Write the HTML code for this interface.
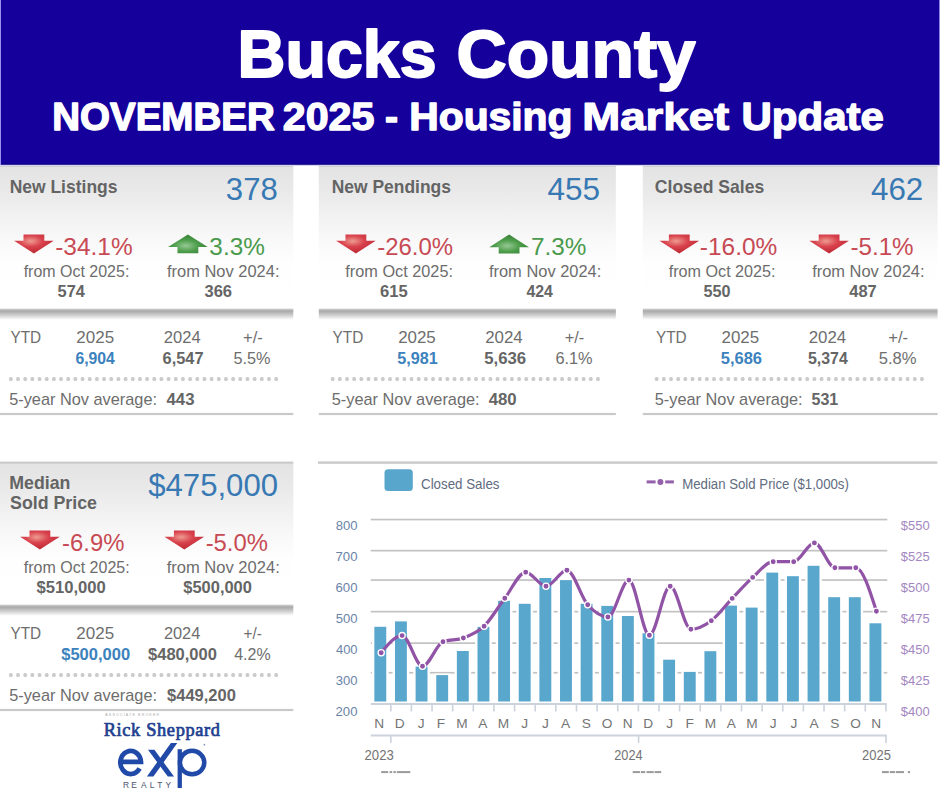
<!DOCTYPE html>
<html><head><meta charset="utf-8"><title>Bucks County - November 2025 Housing Market Update</title>
<style>html,body{margin:0;padding:0;background:#fff;} body{width:940px;height:788px;overflow:hidden;font-family:"Liberation Sans",sans-serif;} svg{display:block;}</style>
</head><body>
<svg width="940" height="788" viewBox="0 0 940 788">
<defs><linearGradient id="cg" x1="0" y1="0" x2="0" y2="1">
<stop offset="0" stop-color="#e3e3e3"/><stop offset="0.17" stop-color="#e9e9e9"/><stop offset="0.34" stop-color="#f1f1f1"/><stop offset="0.52" stop-color="#f9f9f9"/><stop offset="0.68" stop-color="#fefefe"/><stop offset="1" stop-color="#ffffff"/></linearGradient><linearGradient id="bar" x1="0" y1="0" x2="0" y2="1">
<stop offset="0" stop-color="#d4d4d4"/><stop offset="0.22" stop-color="#a9a9a9"/><stop offset="0.48" stop-color="#c2c2c2"/><stop offset="0.74" stop-color="#e0e0e0"/><stop offset="1" stop-color="#ffffff"/></linearGradient><radialGradient id="rg" cx="0.42" cy="0.35" r="0.6">
<stop offset="0" stop-color="#ee9c90"/><stop offset="0.5" stop-color="#d9424c"/><stop offset="1" stop-color="#bf2c37"/></radialGradient><radialGradient id="gg" cx="0.45" cy="0.6" r="0.6">
<stop offset="0" stop-color="#97c995"/><stop offset="0.5" stop-color="#4e9e4c"/><stop offset="1" stop-color="#347f34"/></radialGradient></defs>
<rect width="940" height="788" fill="#ffffff"/>
<rect x="0" y="0" width="940" height="165" fill="#15009b"/>
<rect x="0" y="163.6" width="940" height="1.2" fill="#0c007e"/>
<rect x="0" y="164.8" width="940" height="1.2" fill="#d6d2f4"/>
<rect x="939" y="0" width="1" height="165" fill="#8a80e6"/>
<rect x="0" y="0" width="1" height="165" fill="#9a90ee"/>
<rect x="-3" y="166" width="296.3" height="143" fill="url(#cg)"/>
<rect x="-3" y="166" width="296.3" height="1" fill="#d2d2d2"/>
<rect x="-3" y="308.6" width="296.3" height="11.2" fill="url(#bar)"/>
<rect x="9.00" y="377.0" width="3.7" height="3.9" rx="1.5" fill="#cbcbcb"/>
<rect x="16.17" y="377.0" width="3.7" height="3.9" rx="1.5" fill="#cbcbcb"/>
<rect x="23.34" y="377.0" width="3.7" height="3.9" rx="1.5" fill="#cbcbcb"/>
<rect x="30.51" y="377.0" width="3.7" height="3.9" rx="1.5" fill="#cbcbcb"/>
<rect x="37.68" y="377.0" width="3.7" height="3.9" rx="1.5" fill="#cbcbcb"/>
<rect x="44.85" y="377.0" width="3.7" height="3.9" rx="1.5" fill="#cbcbcb"/>
<rect x="52.02" y="377.0" width="3.7" height="3.9" rx="1.5" fill="#cbcbcb"/>
<rect x="59.19" y="377.0" width="3.7" height="3.9" rx="1.5" fill="#cbcbcb"/>
<rect x="66.36" y="377.0" width="3.7" height="3.9" rx="1.5" fill="#cbcbcb"/>
<rect x="73.53" y="377.0" width="3.7" height="3.9" rx="1.5" fill="#cbcbcb"/>
<rect x="80.70" y="377.0" width="3.7" height="3.9" rx="1.5" fill="#cbcbcb"/>
<rect x="87.87" y="377.0" width="3.7" height="3.9" rx="1.5" fill="#cbcbcb"/>
<rect x="95.04" y="377.0" width="3.7" height="3.9" rx="1.5" fill="#cbcbcb"/>
<rect x="102.21" y="377.0" width="3.7" height="3.9" rx="1.5" fill="#cbcbcb"/>
<rect x="109.38" y="377.0" width="3.7" height="3.9" rx="1.5" fill="#cbcbcb"/>
<rect x="116.55" y="377.0" width="3.7" height="3.9" rx="1.5" fill="#cbcbcb"/>
<rect x="123.72" y="377.0" width="3.7" height="3.9" rx="1.5" fill="#cbcbcb"/>
<rect x="130.89" y="377.0" width="3.7" height="3.9" rx="1.5" fill="#cbcbcb"/>
<rect x="138.06" y="377.0" width="3.7" height="3.9" rx="1.5" fill="#cbcbcb"/>
<rect x="145.23" y="377.0" width="3.7" height="3.9" rx="1.5" fill="#cbcbcb"/>
<rect x="152.40" y="377.0" width="3.7" height="3.9" rx="1.5" fill="#cbcbcb"/>
<rect x="159.57" y="377.0" width="3.7" height="3.9" rx="1.5" fill="#cbcbcb"/>
<rect x="166.74" y="377.0" width="3.7" height="3.9" rx="1.5" fill="#cbcbcb"/>
<rect x="173.91" y="377.0" width="3.7" height="3.9" rx="1.5" fill="#cbcbcb"/>
<rect x="181.08" y="377.0" width="3.7" height="3.9" rx="1.5" fill="#cbcbcb"/>
<rect x="188.25" y="377.0" width="3.7" height="3.9" rx="1.5" fill="#cbcbcb"/>
<rect x="195.42" y="377.0" width="3.7" height="3.9" rx="1.5" fill="#cbcbcb"/>
<rect x="202.59" y="377.0" width="3.7" height="3.9" rx="1.5" fill="#cbcbcb"/>
<rect x="209.76" y="377.0" width="3.7" height="3.9" rx="1.5" fill="#cbcbcb"/>
<rect x="216.93" y="377.0" width="3.7" height="3.9" rx="1.5" fill="#cbcbcb"/>
<rect x="224.10" y="377.0" width="3.7" height="3.9" rx="1.5" fill="#cbcbcb"/>
<rect x="231.27" y="377.0" width="3.7" height="3.9" rx="1.5" fill="#cbcbcb"/>
<rect x="238.44" y="377.0" width="3.7" height="3.9" rx="1.5" fill="#cbcbcb"/>
<rect x="245.61" y="377.0" width="3.7" height="3.9" rx="1.5" fill="#cbcbcb"/>
<rect x="252.78" y="377.0" width="3.7" height="3.9" rx="1.5" fill="#cbcbcb"/>
<rect x="259.95" y="377.0" width="3.7" height="3.9" rx="1.5" fill="#cbcbcb"/>
<rect x="267.12" y="377.0" width="3.7" height="3.9" rx="1.5" fill="#cbcbcb"/>
<rect x="274.29" y="377.0" width="3.7" height="3.9" rx="1.5" fill="#cbcbcb"/>
<rect x="-3" y="412.9" width="296.3" height="2.2" fill="#c9c9c9"/>
<rect x="318.8" y="166" width="297.05" height="143" fill="url(#cg)"/>
<rect x="318.8" y="166" width="297.05" height="1" fill="#d2d2d2"/>
<rect x="318.8" y="308.6" width="297.05" height="11.2" fill="url(#bar)"/>
<rect x="330.80" y="377.0" width="3.7" height="3.9" rx="1.5" fill="#cbcbcb"/>
<rect x="337.97" y="377.0" width="3.7" height="3.9" rx="1.5" fill="#cbcbcb"/>
<rect x="345.14" y="377.0" width="3.7" height="3.9" rx="1.5" fill="#cbcbcb"/>
<rect x="352.31" y="377.0" width="3.7" height="3.9" rx="1.5" fill="#cbcbcb"/>
<rect x="359.48" y="377.0" width="3.7" height="3.9" rx="1.5" fill="#cbcbcb"/>
<rect x="366.65" y="377.0" width="3.7" height="3.9" rx="1.5" fill="#cbcbcb"/>
<rect x="373.82" y="377.0" width="3.7" height="3.9" rx="1.5" fill="#cbcbcb"/>
<rect x="380.99" y="377.0" width="3.7" height="3.9" rx="1.5" fill="#cbcbcb"/>
<rect x="388.16" y="377.0" width="3.7" height="3.9" rx="1.5" fill="#cbcbcb"/>
<rect x="395.33" y="377.0" width="3.7" height="3.9" rx="1.5" fill="#cbcbcb"/>
<rect x="402.50" y="377.0" width="3.7" height="3.9" rx="1.5" fill="#cbcbcb"/>
<rect x="409.67" y="377.0" width="3.7" height="3.9" rx="1.5" fill="#cbcbcb"/>
<rect x="416.84" y="377.0" width="3.7" height="3.9" rx="1.5" fill="#cbcbcb"/>
<rect x="424.01" y="377.0" width="3.7" height="3.9" rx="1.5" fill="#cbcbcb"/>
<rect x="431.18" y="377.0" width="3.7" height="3.9" rx="1.5" fill="#cbcbcb"/>
<rect x="438.35" y="377.0" width="3.7" height="3.9" rx="1.5" fill="#cbcbcb"/>
<rect x="445.52" y="377.0" width="3.7" height="3.9" rx="1.5" fill="#cbcbcb"/>
<rect x="452.69" y="377.0" width="3.7" height="3.9" rx="1.5" fill="#cbcbcb"/>
<rect x="459.86" y="377.0" width="3.7" height="3.9" rx="1.5" fill="#cbcbcb"/>
<rect x="467.03" y="377.0" width="3.7" height="3.9" rx="1.5" fill="#cbcbcb"/>
<rect x="474.20" y="377.0" width="3.7" height="3.9" rx="1.5" fill="#cbcbcb"/>
<rect x="481.37" y="377.0" width="3.7" height="3.9" rx="1.5" fill="#cbcbcb"/>
<rect x="488.54" y="377.0" width="3.7" height="3.9" rx="1.5" fill="#cbcbcb"/>
<rect x="495.71" y="377.0" width="3.7" height="3.9" rx="1.5" fill="#cbcbcb"/>
<rect x="502.88" y="377.0" width="3.7" height="3.9" rx="1.5" fill="#cbcbcb"/>
<rect x="510.05" y="377.0" width="3.7" height="3.9" rx="1.5" fill="#cbcbcb"/>
<rect x="517.22" y="377.0" width="3.7" height="3.9" rx="1.5" fill="#cbcbcb"/>
<rect x="524.39" y="377.0" width="3.7" height="3.9" rx="1.5" fill="#cbcbcb"/>
<rect x="531.56" y="377.0" width="3.7" height="3.9" rx="1.5" fill="#cbcbcb"/>
<rect x="538.73" y="377.0" width="3.7" height="3.9" rx="1.5" fill="#cbcbcb"/>
<rect x="545.90" y="377.0" width="3.7" height="3.9" rx="1.5" fill="#cbcbcb"/>
<rect x="553.07" y="377.0" width="3.7" height="3.9" rx="1.5" fill="#cbcbcb"/>
<rect x="560.24" y="377.0" width="3.7" height="3.9" rx="1.5" fill="#cbcbcb"/>
<rect x="567.41" y="377.0" width="3.7" height="3.9" rx="1.5" fill="#cbcbcb"/>
<rect x="574.58" y="377.0" width="3.7" height="3.9" rx="1.5" fill="#cbcbcb"/>
<rect x="581.75" y="377.0" width="3.7" height="3.9" rx="1.5" fill="#cbcbcb"/>
<rect x="588.92" y="377.0" width="3.7" height="3.9" rx="1.5" fill="#cbcbcb"/>
<rect x="596.09" y="377.0" width="3.7" height="3.9" rx="1.5" fill="#cbcbcb"/>
<rect x="318.8" y="412.9" width="297.05" height="2.2" fill="#c9c9c9"/>
<rect x="642.8" y="166" width="294.80000000000007" height="143" fill="url(#cg)"/>
<rect x="642.8" y="166" width="294.80000000000007" height="1" fill="#d2d2d2"/>
<rect x="642.8" y="308.6" width="294.80000000000007" height="11.2" fill="url(#bar)"/>
<rect x="654.80" y="377.0" width="3.7" height="3.9" rx="1.5" fill="#cbcbcb"/>
<rect x="661.97" y="377.0" width="3.7" height="3.9" rx="1.5" fill="#cbcbcb"/>
<rect x="669.14" y="377.0" width="3.7" height="3.9" rx="1.5" fill="#cbcbcb"/>
<rect x="676.31" y="377.0" width="3.7" height="3.9" rx="1.5" fill="#cbcbcb"/>
<rect x="683.48" y="377.0" width="3.7" height="3.9" rx="1.5" fill="#cbcbcb"/>
<rect x="690.65" y="377.0" width="3.7" height="3.9" rx="1.5" fill="#cbcbcb"/>
<rect x="697.82" y="377.0" width="3.7" height="3.9" rx="1.5" fill="#cbcbcb"/>
<rect x="704.99" y="377.0" width="3.7" height="3.9" rx="1.5" fill="#cbcbcb"/>
<rect x="712.16" y="377.0" width="3.7" height="3.9" rx="1.5" fill="#cbcbcb"/>
<rect x="719.33" y="377.0" width="3.7" height="3.9" rx="1.5" fill="#cbcbcb"/>
<rect x="726.50" y="377.0" width="3.7" height="3.9" rx="1.5" fill="#cbcbcb"/>
<rect x="733.67" y="377.0" width="3.7" height="3.9" rx="1.5" fill="#cbcbcb"/>
<rect x="740.84" y="377.0" width="3.7" height="3.9" rx="1.5" fill="#cbcbcb"/>
<rect x="748.01" y="377.0" width="3.7" height="3.9" rx="1.5" fill="#cbcbcb"/>
<rect x="755.18" y="377.0" width="3.7" height="3.9" rx="1.5" fill="#cbcbcb"/>
<rect x="762.35" y="377.0" width="3.7" height="3.9" rx="1.5" fill="#cbcbcb"/>
<rect x="769.52" y="377.0" width="3.7" height="3.9" rx="1.5" fill="#cbcbcb"/>
<rect x="776.69" y="377.0" width="3.7" height="3.9" rx="1.5" fill="#cbcbcb"/>
<rect x="783.86" y="377.0" width="3.7" height="3.9" rx="1.5" fill="#cbcbcb"/>
<rect x="791.03" y="377.0" width="3.7" height="3.9" rx="1.5" fill="#cbcbcb"/>
<rect x="798.20" y="377.0" width="3.7" height="3.9" rx="1.5" fill="#cbcbcb"/>
<rect x="805.37" y="377.0" width="3.7" height="3.9" rx="1.5" fill="#cbcbcb"/>
<rect x="812.54" y="377.0" width="3.7" height="3.9" rx="1.5" fill="#cbcbcb"/>
<rect x="819.71" y="377.0" width="3.7" height="3.9" rx="1.5" fill="#cbcbcb"/>
<rect x="826.88" y="377.0" width="3.7" height="3.9" rx="1.5" fill="#cbcbcb"/>
<rect x="834.05" y="377.0" width="3.7" height="3.9" rx="1.5" fill="#cbcbcb"/>
<rect x="841.22" y="377.0" width="3.7" height="3.9" rx="1.5" fill="#cbcbcb"/>
<rect x="848.39" y="377.0" width="3.7" height="3.9" rx="1.5" fill="#cbcbcb"/>
<rect x="855.56" y="377.0" width="3.7" height="3.9" rx="1.5" fill="#cbcbcb"/>
<rect x="862.73" y="377.0" width="3.7" height="3.9" rx="1.5" fill="#cbcbcb"/>
<rect x="869.90" y="377.0" width="3.7" height="3.9" rx="1.5" fill="#cbcbcb"/>
<rect x="877.07" y="377.0" width="3.7" height="3.9" rx="1.5" fill="#cbcbcb"/>
<rect x="884.24" y="377.0" width="3.7" height="3.9" rx="1.5" fill="#cbcbcb"/>
<rect x="891.41" y="377.0" width="3.7" height="3.9" rx="1.5" fill="#cbcbcb"/>
<rect x="898.58" y="377.0" width="3.7" height="3.9" rx="1.5" fill="#cbcbcb"/>
<rect x="905.75" y="377.0" width="3.7" height="3.9" rx="1.5" fill="#cbcbcb"/>
<rect x="912.92" y="377.0" width="3.7" height="3.9" rx="1.5" fill="#cbcbcb"/>
<rect x="920.09" y="377.0" width="3.7" height="3.9" rx="1.5" fill="#cbcbcb"/>
<rect x="642.8" y="412.9" width="294.80000000000007" height="2.2" fill="#c9c9c9"/>
<rect x="-3" y="463.8" width="296.3" height="141.2" fill="url(#cg)"/>
<rect x="-3" y="461.6" width="296.3" height="2.2" fill="#c9c9c9"/>
<rect x="-3" y="604.6" width="296.3" height="11.2" fill="url(#bar)"/>
<rect x="9.00" y="673.0" width="3.7" height="3.9" rx="1.5" fill="#cbcbcb"/>
<rect x="16.17" y="673.0" width="3.7" height="3.9" rx="1.5" fill="#cbcbcb"/>
<rect x="23.34" y="673.0" width="3.7" height="3.9" rx="1.5" fill="#cbcbcb"/>
<rect x="30.51" y="673.0" width="3.7" height="3.9" rx="1.5" fill="#cbcbcb"/>
<rect x="37.68" y="673.0" width="3.7" height="3.9" rx="1.5" fill="#cbcbcb"/>
<rect x="44.85" y="673.0" width="3.7" height="3.9" rx="1.5" fill="#cbcbcb"/>
<rect x="52.02" y="673.0" width="3.7" height="3.9" rx="1.5" fill="#cbcbcb"/>
<rect x="59.19" y="673.0" width="3.7" height="3.9" rx="1.5" fill="#cbcbcb"/>
<rect x="66.36" y="673.0" width="3.7" height="3.9" rx="1.5" fill="#cbcbcb"/>
<rect x="73.53" y="673.0" width="3.7" height="3.9" rx="1.5" fill="#cbcbcb"/>
<rect x="80.70" y="673.0" width="3.7" height="3.9" rx="1.5" fill="#cbcbcb"/>
<rect x="87.87" y="673.0" width="3.7" height="3.9" rx="1.5" fill="#cbcbcb"/>
<rect x="95.04" y="673.0" width="3.7" height="3.9" rx="1.5" fill="#cbcbcb"/>
<rect x="102.21" y="673.0" width="3.7" height="3.9" rx="1.5" fill="#cbcbcb"/>
<rect x="109.38" y="673.0" width="3.7" height="3.9" rx="1.5" fill="#cbcbcb"/>
<rect x="116.55" y="673.0" width="3.7" height="3.9" rx="1.5" fill="#cbcbcb"/>
<rect x="123.72" y="673.0" width="3.7" height="3.9" rx="1.5" fill="#cbcbcb"/>
<rect x="130.89" y="673.0" width="3.7" height="3.9" rx="1.5" fill="#cbcbcb"/>
<rect x="138.06" y="673.0" width="3.7" height="3.9" rx="1.5" fill="#cbcbcb"/>
<rect x="145.23" y="673.0" width="3.7" height="3.9" rx="1.5" fill="#cbcbcb"/>
<rect x="152.40" y="673.0" width="3.7" height="3.9" rx="1.5" fill="#cbcbcb"/>
<rect x="159.57" y="673.0" width="3.7" height="3.9" rx="1.5" fill="#cbcbcb"/>
<rect x="166.74" y="673.0" width="3.7" height="3.9" rx="1.5" fill="#cbcbcb"/>
<rect x="173.91" y="673.0" width="3.7" height="3.9" rx="1.5" fill="#cbcbcb"/>
<rect x="181.08" y="673.0" width="3.7" height="3.9" rx="1.5" fill="#cbcbcb"/>
<rect x="188.25" y="673.0" width="3.7" height="3.9" rx="1.5" fill="#cbcbcb"/>
<rect x="195.42" y="673.0" width="3.7" height="3.9" rx="1.5" fill="#cbcbcb"/>
<rect x="202.59" y="673.0" width="3.7" height="3.9" rx="1.5" fill="#cbcbcb"/>
<rect x="209.76" y="673.0" width="3.7" height="3.9" rx="1.5" fill="#cbcbcb"/>
<rect x="216.93" y="673.0" width="3.7" height="3.9" rx="1.5" fill="#cbcbcb"/>
<rect x="224.10" y="673.0" width="3.7" height="3.9" rx="1.5" fill="#cbcbcb"/>
<rect x="231.27" y="673.0" width="3.7" height="3.9" rx="1.5" fill="#cbcbcb"/>
<rect x="238.44" y="673.0" width="3.7" height="3.9" rx="1.5" fill="#cbcbcb"/>
<rect x="245.61" y="673.0" width="3.7" height="3.9" rx="1.5" fill="#cbcbcb"/>
<rect x="252.78" y="673.0" width="3.7" height="3.9" rx="1.5" fill="#cbcbcb"/>
<rect x="259.95" y="673.0" width="3.7" height="3.9" rx="1.5" fill="#cbcbcb"/>
<rect x="267.12" y="673.0" width="3.7" height="3.9" rx="1.5" fill="#cbcbcb"/>
<rect x="274.29" y="673.0" width="3.7" height="3.9" rx="1.5" fill="#cbcbcb"/>
<rect x="-3" y="708.9" width="296.3" height="2.2" fill="#c9c9c9"/>
<path d="M33.90,253.40 L53.70,240.70 L44.30,240.70 L44.30,234.50 L23.50,234.50 L23.50,240.70 L14.10,240.70Z" fill="url(#rg)"/>
<path d="M187.90,234.40 L207.70,247.10 L198.30,247.10 L198.30,253.30 L177.50,253.30 L177.50,247.10 L168.10,247.10Z" fill="url(#gg)"/>
<path d="M355.90,253.40 L375.70,240.70 L366.30,240.70 L366.30,234.50 L345.50,234.50 L345.50,240.70 L336.10,240.70Z" fill="url(#rg)"/>
<path d="M509.10,234.50 L528.90,247.20 L519.50,247.20 L519.50,253.40 L498.70,253.40 L498.70,247.20 L489.30,247.20Z" fill="url(#gg)"/>
<path d="M679.30,253.40 L699.10,240.70 L689.70,240.70 L689.70,234.50 L668.90,234.50 L668.90,240.70 L659.50,240.70Z" fill="url(#rg)"/>
<path d="M829.10,253.40 L848.90,240.70 L839.50,240.70 L839.50,234.50 L818.70,234.50 L818.70,240.70 L809.30,240.70Z" fill="url(#rg)"/>
<path d="M39.90,549.40 L59.70,536.70 L50.30,536.70 L50.30,530.50 L29.50,530.50 L29.50,536.70 L20.10,536.70Z" fill="url(#rg)"/>
<path d="M184.30,549.40 L204.10,536.70 L194.70,536.70 L194.70,530.50 L173.90,530.50 L173.90,536.70 L164.50,536.70Z" fill="url(#rg)"/>
<rect x="318" y="461.4" width="619.3" height="2.4" fill="#c9c9c9"/>
<rect x="384.5" y="469.2" width="28.3" height="21.8" rx="3.5" fill="#58a6cc"/>
<line x1="646.6" y1="481.9" x2="655.6" y2="481.9" stroke="#9460ab" stroke-width="3"/>
<line x1="665.2" y1="481.9" x2="673.9" y2="481.9" stroke="#9460ab" stroke-width="3"/>
<circle cx="660.4" cy="481.9" r="3" fill="#9460ab"/>
<rect x="370.8" y="518.70" width="516.5" height="1.7" fill="#c2c2c2"/>
<rect x="370.8" y="549.80" width="516.5" height="1.7" fill="#c2c2c2"/>
<rect x="370.8" y="579.20" width="516.5" height="1.7" fill="#c2c2c2"/>
<rect x="370.8" y="610.80" width="516.5" height="1.7" fill="#c2c2c2"/>
<rect x="370.8" y="642.30" width="516.5" height="1.7" fill="#c2c2c2"/>
<rect x="370.8" y="671.90" width="516.5" height="1.7" fill="#c2c2c2"/>
<rect x="371.95" y="625.30" width="16.70" height="76.20" fill="#ffffff"/>
<rect x="392.58" y="619.90" width="16.70" height="81.60" fill="#ffffff"/>
<rect x="413.21" y="665.10" width="16.70" height="36.40" fill="#ffffff"/>
<rect x="433.84" y="673.60" width="16.70" height="27.90" fill="#ffffff"/>
<rect x="454.47" y="649.50" width="16.70" height="52.00" fill="#ffffff"/>
<rect x="475.10" y="625.40" width="16.70" height="76.10" fill="#ffffff"/>
<rect x="495.73" y="599.30" width="16.70" height="102.20" fill="#ffffff"/>
<rect x="516.36" y="602.30" width="16.70" height="99.20" fill="#ffffff"/>
<rect x="536.99" y="576.50" width="16.70" height="125.00" fill="#ffffff"/>
<rect x="557.62" y="578.60" width="16.70" height="122.90" fill="#ffffff"/>
<rect x="578.25" y="602.30" width="16.70" height="99.20" fill="#ffffff"/>
<rect x="598.88" y="604.40" width="16.70" height="97.10" fill="#ffffff"/>
<rect x="619.51" y="614.50" width="16.70" height="87.00" fill="#ffffff"/>
<rect x="640.14" y="631.80" width="16.70" height="69.70" fill="#ffffff"/>
<rect x="660.77" y="658.20" width="16.70" height="43.30" fill="#ffffff"/>
<rect x="681.40" y="670.40" width="16.70" height="31.10" fill="#ffffff"/>
<rect x="702.03" y="649.70" width="16.70" height="51.80" fill="#ffffff"/>
<rect x="722.66" y="604.10" width="16.70" height="97.40" fill="#ffffff"/>
<rect x="743.29" y="606.10" width="16.70" height="95.40" fill="#ffffff"/>
<rect x="763.92" y="571.10" width="16.70" height="130.40" fill="#ffffff"/>
<rect x="784.55" y="574.70" width="16.70" height="126.80" fill="#ffffff"/>
<rect x="805.18" y="564.30" width="16.70" height="137.20" fill="#ffffff"/>
<rect x="825.81" y="595.70" width="16.70" height="105.80" fill="#ffffff"/>
<rect x="846.44" y="595.70" width="16.70" height="105.80" fill="#ffffff"/>
<rect x="867.07" y="621.80" width="16.70" height="79.70" fill="#ffffff"/>
<rect x="374.35" y="626.80" width="11.90" height="74.70" fill="#5aa7ce"/>
<rect x="394.98" y="621.40" width="11.90" height="80.10" fill="#5aa7ce"/>
<rect x="415.61" y="666.60" width="11.90" height="34.90" fill="#5aa7ce"/>
<rect x="436.24" y="675.10" width="11.90" height="26.40" fill="#5aa7ce"/>
<rect x="456.87" y="651.00" width="11.90" height="50.50" fill="#5aa7ce"/>
<rect x="477.50" y="626.90" width="11.90" height="74.60" fill="#5aa7ce"/>
<rect x="498.13" y="600.80" width="11.90" height="100.70" fill="#5aa7ce"/>
<rect x="518.76" y="603.80" width="11.90" height="97.70" fill="#5aa7ce"/>
<rect x="539.39" y="578.00" width="11.90" height="123.50" fill="#5aa7ce"/>
<rect x="560.02" y="580.10" width="11.90" height="121.40" fill="#5aa7ce"/>
<rect x="580.65" y="603.80" width="11.90" height="97.70" fill="#5aa7ce"/>
<rect x="601.28" y="605.90" width="11.90" height="95.60" fill="#5aa7ce"/>
<rect x="621.91" y="616.00" width="11.90" height="85.50" fill="#5aa7ce"/>
<rect x="642.54" y="633.30" width="11.90" height="68.20" fill="#5aa7ce"/>
<rect x="663.17" y="659.70" width="11.90" height="41.80" fill="#5aa7ce"/>
<rect x="683.80" y="671.90" width="11.90" height="29.60" fill="#5aa7ce"/>
<rect x="704.43" y="651.20" width="11.90" height="50.30" fill="#5aa7ce"/>
<rect x="725.06" y="605.60" width="11.90" height="95.90" fill="#5aa7ce"/>
<rect x="745.69" y="607.60" width="11.90" height="93.90" fill="#5aa7ce"/>
<rect x="766.32" y="572.60" width="11.90" height="128.90" fill="#5aa7ce"/>
<rect x="786.95" y="576.20" width="11.90" height="125.30" fill="#5aa7ce"/>
<rect x="807.58" y="565.80" width="11.90" height="135.70" fill="#5aa7ce"/>
<rect x="828.21" y="597.20" width="11.90" height="104.30" fill="#5aa7ce"/>
<rect x="848.84" y="597.20" width="11.90" height="104.30" fill="#5aa7ce"/>
<rect x="869.47" y="623.30" width="11.90" height="78.20" fill="#5aa7ce"/>
<rect x="370.8" y="703" width="516.1" height="2" fill="#ccd3dd"/>
<rect x="390.00" y="704" width="1.6" height="7.5" fill="#ccd3dd"/>
<rect x="410.63" y="704" width="1.6" height="7.5" fill="#ccd3dd"/>
<rect x="431.26" y="704" width="1.6" height="7.5" fill="#ccd3dd"/>
<rect x="451.89" y="704" width="1.6" height="7.5" fill="#ccd3dd"/>
<rect x="472.52" y="704" width="1.6" height="7.5" fill="#ccd3dd"/>
<rect x="493.15" y="704" width="1.6" height="7.5" fill="#ccd3dd"/>
<rect x="513.78" y="704" width="1.6" height="7.5" fill="#ccd3dd"/>
<rect x="534.41" y="704" width="1.6" height="7.5" fill="#ccd3dd"/>
<rect x="555.04" y="704" width="1.6" height="7.5" fill="#ccd3dd"/>
<rect x="575.67" y="704" width="1.6" height="7.5" fill="#ccd3dd"/>
<rect x="596.30" y="704" width="1.6" height="7.5" fill="#ccd3dd"/>
<rect x="616.93" y="704" width="1.6" height="7.5" fill="#ccd3dd"/>
<rect x="637.56" y="704" width="1.6" height="7.5" fill="#ccd3dd"/>
<rect x="658.19" y="704" width="1.6" height="7.5" fill="#ccd3dd"/>
<rect x="678.82" y="704" width="1.6" height="7.5" fill="#ccd3dd"/>
<rect x="699.45" y="704" width="1.6" height="7.5" fill="#ccd3dd"/>
<rect x="720.08" y="704" width="1.6" height="7.5" fill="#ccd3dd"/>
<rect x="740.71" y="704" width="1.6" height="7.5" fill="#ccd3dd"/>
<rect x="761.34" y="704" width="1.6" height="7.5" fill="#ccd3dd"/>
<rect x="781.97" y="704" width="1.6" height="7.5" fill="#ccd3dd"/>
<rect x="802.60" y="704" width="1.6" height="7.5" fill="#ccd3dd"/>
<rect x="823.23" y="704" width="1.6" height="7.5" fill="#ccd3dd"/>
<rect x="843.86" y="704" width="1.6" height="7.5" fill="#ccd3dd"/>
<rect x="864.49" y="704" width="1.6" height="7.5" fill="#ccd3dd"/>
<rect x="885.12" y="704" width="1.6" height="7.5" fill="#ccd3dd"/>
<rect x="370.8" y="734.5" width="516.1" height="2" fill="#ccd3dd"/>
<rect x="390.00" y="735.5" width="1.6" height="7.5" fill="#ccd3dd"/>
<rect x="637.80" y="735.5" width="1.6" height="7.5" fill="#ccd3dd"/>
<rect x="885.20" y="735.5" width="1.6" height="7.5" fill="#ccd3dd"/>
<rect x="381.2" y="771.1" width="7.0" height="2.0" fill="#9a9a9a"/>
<rect x="389.6" y="771.1" width="2.6" height="2.0" fill="#9a9a9a"/>
<rect x="393.4" y="771.1" width="2.4" height="2.0" fill="#9a9a9a"/>
<rect x="396.8" y="771.1" width="13.5" height="2.0" fill="#9a9a9a"/>
<rect x="632.7" y="771.1" width="7.5" height="2.0" fill="#9a9a9a"/>
<rect x="641.0" y="771.1" width="4.2" height="2.0" fill="#9a9a9a"/>
<rect x="646.5" y="771.1" width="7.3" height="2.0" fill="#9a9a9a"/>
<rect x="654.6" y="771.1" width="6.6" height="2.0" fill="#9a9a9a"/>
<rect x="882.0" y="771.1" width="6.8" height="2.0" fill="#9a9a9a"/>
<rect x="889.8" y="771.1" width="5.2" height="2.0" fill="#9a9a9a"/>
<rect x="895.8" y="771.1" width="8.2" height="2.0" fill="#9a9a9a"/>
<rect x="907.8" y="771.1" width="2.3" height="2.0" fill="#9a9a9a"/>
<path d="M381.20,652.70 C388.17,644.15 395.13,635.60 402.10,635.60 C408.90,635.60 415.70,666.20 422.50,666.20 C429.33,666.20 436.17,644.35 443.00,641.80 C449.80,639.27 456.60,640.53 463.40,638.00 C470.30,635.43 477.20,632.82 484.10,626.20 C491.00,619.58 497.90,607.24 504.80,598.30 C511.77,589.27 518.73,572.30 525.70,572.30 C532.47,572.30 539.23,586.20 546.00,586.20 C552.97,586.20 559.93,570.30 566.90,570.30 C573.83,570.30 580.77,597.01 587.70,604.80 C594.43,612.37 601.17,617.00 607.90,617.00 C614.90,617.00 621.90,580.10 628.90,580.10 C635.73,580.10 642.57,635.30 649.40,635.30 C656.33,635.30 663.27,586.20 670.20,586.20 C677.10,586.20 684.00,629.20 690.90,629.20 C697.70,629.20 704.50,625.72 711.30,620.70 C718.27,615.56 725.23,605.68 732.20,598.40 C739.03,591.26 745.87,583.52 752.70,577.40 C759.53,571.28 766.37,561.70 773.20,561.70 C780.03,561.70 786.87,561.70 793.70,561.70 C800.60,561.70 807.50,542.90 814.40,542.90 C821.23,542.90 828.07,567.80 834.90,567.80 C841.87,567.80 848.83,567.80 855.80,567.80 C862.67,567.80 869.53,589.50 876.40,611.20" fill="none" stroke="#9053a6" stroke-width="3.2" stroke-linejoin="round" stroke-linecap="round"/>
<circle cx="381.2" cy="652.7" r="3.1" fill="#9053a6" stroke="#ffffff" stroke-width="1.3"/>
<circle cx="402.1" cy="635.6" r="3.1" fill="#9053a6" stroke="#ffffff" stroke-width="1.3"/>
<circle cx="422.5" cy="666.2" r="3.1" fill="#9053a6" stroke="#ffffff" stroke-width="1.3"/>
<circle cx="443.0" cy="641.8" r="3.1" fill="#9053a6" stroke="#ffffff" stroke-width="1.3"/>
<circle cx="463.4" cy="638.0" r="3.1" fill="#9053a6" stroke="#ffffff" stroke-width="1.3"/>
<circle cx="484.1" cy="626.2" r="3.1" fill="#9053a6" stroke="#ffffff" stroke-width="1.3"/>
<circle cx="504.8" cy="598.3" r="3.1" fill="#9053a6" stroke="#ffffff" stroke-width="1.3"/>
<circle cx="525.7" cy="572.3" r="3.1" fill="#9053a6" stroke="#ffffff" stroke-width="1.3"/>
<circle cx="546.0" cy="586.2" r="3.1" fill="#9053a6" stroke="#ffffff" stroke-width="1.3"/>
<circle cx="566.9" cy="570.3" r="3.1" fill="#9053a6" stroke="#ffffff" stroke-width="1.3"/>
<circle cx="587.7" cy="604.8" r="3.1" fill="#9053a6" stroke="#ffffff" stroke-width="1.3"/>
<circle cx="607.9" cy="617.0" r="3.1" fill="#9053a6" stroke="#ffffff" stroke-width="1.3"/>
<circle cx="628.9" cy="580.1" r="3.1" fill="#9053a6" stroke="#ffffff" stroke-width="1.3"/>
<circle cx="649.4" cy="635.3" r="3.1" fill="#9053a6" stroke="#ffffff" stroke-width="1.3"/>
<circle cx="670.2" cy="586.2" r="3.1" fill="#9053a6" stroke="#ffffff" stroke-width="1.3"/>
<circle cx="690.9" cy="629.2" r="3.1" fill="#9053a6" stroke="#ffffff" stroke-width="1.3"/>
<circle cx="711.3" cy="620.7" r="3.1" fill="#9053a6" stroke="#ffffff" stroke-width="1.3"/>
<circle cx="732.2" cy="598.4" r="3.1" fill="#9053a6" stroke="#ffffff" stroke-width="1.3"/>
<circle cx="752.7" cy="577.4" r="3.1" fill="#9053a6" stroke="#ffffff" stroke-width="1.3"/>
<circle cx="773.2" cy="561.7" r="3.1" fill="#9053a6" stroke="#ffffff" stroke-width="1.3"/>
<circle cx="793.7" cy="561.7" r="3.1" fill="#9053a6" stroke="#ffffff" stroke-width="1.3"/>
<circle cx="814.4" cy="542.9" r="3.1" fill="#9053a6" stroke="#ffffff" stroke-width="1.3"/>
<circle cx="834.9" cy="567.8" r="3.1" fill="#9053a6" stroke="#ffffff" stroke-width="1.3"/>
<circle cx="855.8" cy="567.8" r="3.1" fill="#9053a6" stroke="#ffffff" stroke-width="1.3"/>
<circle cx="876.4" cy="611.2" r="3.1" fill="#9053a6" stroke="#ffffff" stroke-width="1.3"/>
<text x="105.3" y="715.6" font-family="Liberation Sans" font-size="3.6" letter-spacing="1.15" fill="#a8a8a8">ASSOCIATE BROKER</text>
<path d="M118.5,761.9 L140.95,761.9 A10.3,11.5 0 1 0 139.57,768.30" fill="none" stroke="#2149a8" stroke-width="4.8"/>
<path d="M170.9,743 L177.3,743 L153.4,776.6 L146.9,776.6 Z" fill="#2149a8"/>
<path d="M148.0,749.8 L154.4,749.8 L174.0,776.6 L167.8,776.6 Z" fill="#2149a8"/>
<ellipse cx="192.1" cy="762.55" rx="12.2" ry="11.7" fill="none" stroke="#2149a8" stroke-width="4.5"/>
<rect x="177.6" y="749.2" width="4.3" height="40" fill="#2149a8"/>
<circle cx="204.4" cy="744.7" r="0.9" fill="#8896c8"/>
<text x="126.0" y="788.2" text-anchor="middle" font-family="Liberation Sans" font-size="8.4" fill="#4e5670" stroke="#4e5670" stroke-width="0.05">R</text>
<text x="134.0" y="788.2" text-anchor="middle" font-family="Liberation Sans" font-size="8.4" fill="#4e5670" stroke="#4e5670" stroke-width="0.05">E</text>
<text x="143.7" y="788.2" text-anchor="middle" font-family="Liberation Sans" font-size="8.4" fill="#4e5670" stroke="#4e5670" stroke-width="0.05">A</text>
<text x="152.0" y="788.2" text-anchor="middle" font-family="Liberation Sans" font-size="8.4" fill="#4e5670" stroke="#4e5670" stroke-width="0.05">L</text>
<text x="159.8" y="788.2" text-anchor="middle" font-family="Liberation Sans" font-size="8.4" fill="#4e5670" stroke="#4e5670" stroke-width="0.05">T</text>
<text x="168.4" y="788.2" text-anchor="middle" font-family="Liberation Sans" font-size="8.4" fill="#4e5670" stroke="#4e5670" stroke-width="0.05">Y</text>
<text transform="translate(237.62,77.30) scale(0.9964,1)" font-family="Liberation Sans" font-size="66.5" font-weight="bold" fill="#ffffff" stroke="#ffffff" stroke-width="2.01" stroke-linejoin="round">Bucks</text>
<text transform="translate(456.52,77.30) scale(1.0445,1)" font-family="Liberation Sans" font-size="66.5" font-weight="bold" fill="#ffffff" stroke="#ffffff" stroke-width="1.91" stroke-linejoin="round">County</text>
<text transform="translate(52.19,129.50) scale(0.9852,1)" font-family="Liberation Sans" font-size="39.1" font-weight="bold" fill="#ffffff" stroke="#ffffff" stroke-width="1.42" stroke-linejoin="round">NOVEMBER</text>
<text transform="translate(282.87,129.50) scale(1.0521,1)" font-family="Liberation Sans" font-size="39.1" font-weight="bold" fill="#ffffff" stroke="#ffffff" stroke-width="1.33" stroke-linejoin="round">2025</text>
<text transform="translate(385.02,129.50) scale(1.0041,1)" font-family="Liberation Sans" font-size="39.1" font-weight="bold" fill="#ffffff" stroke="#ffffff" stroke-width="1.39" stroke-linejoin="round">-</text>
<text transform="translate(409.25,129.50) scale(1.0438,1)" font-family="Liberation Sans" font-size="39.1" font-weight="bold" fill="#ffffff" stroke="#ffffff" stroke-width="1.34" stroke-linejoin="round">Housing</text>
<text transform="translate(582.26,129.50) scale(1.1660,1)" font-family="Liberation Sans" font-size="39.1" font-weight="bold" fill="#ffffff" stroke="#ffffff" stroke-width="1.20" stroke-linejoin="round">Market</text>
<text transform="translate(741.48,129.50) scale(1.0747,1)" font-family="Liberation Sans" font-size="39.1" font-weight="bold" fill="#ffffff" stroke="#ffffff" stroke-width="1.30" stroke-linejoin="round">Update</text>
<text transform="translate(9.65,192.70) scale(0.9718,1)" font-family="Liberation Sans" font-size="18.0" font-weight="bold" fill="#646464">New Listings</text>
<text transform="translate(225.87,200.40) scale(0.9867,1)" font-family="Liberation Sans" font-size="31.5" fill="#3879b4">378</text>
<text transform="translate(55.22,254.70) scale(1.0051,1)" font-family="Liberation Sans" font-size="24.3" fill="#c74a54">-34.1%</text>
<text transform="translate(23.64,276.60) scale(0.9751,1)" font-family="Liberation Sans" font-size="16.4" fill="#6d6d6d">from Oct 2025:</text>
<text transform="translate(57.51,296.90)" font-family="Liberation Sans" font-size="16.4" font-weight="bold" fill="#656565">574</text>
<text transform="translate(209.37,254.70)" font-family="Liberation Sans" font-size="24.3" fill="#4a9a4d">3.3%</text>
<text transform="translate(166.94,276.60) scale(1.0044,1)" font-family="Liberation Sans" font-size="16.4" fill="#6d6d6d">from Nov 2024:</text>
<text transform="translate(204.47,296.90) scale(1.0060,1)" font-family="Liberation Sans" font-size="16.4" font-weight="bold" fill="#656565">366</text>
<text transform="translate(10.39,342.90) scale(0.9702,1)" font-family="Liberation Sans" font-size="15.85" fill="#6e6e6e">YTD</text>
<text transform="translate(76.25,342.90) scale(1.0739,1)" font-family="Liberation Sans" font-size="15.85" fill="#6e6e6e">2025</text>
<text transform="translate(75.43,363.80) scale(0.9962,1)" font-family="Liberation Sans" font-size="15.85" font-weight="bold" fill="#3c82bd">6,904</text>
<text transform="translate(163.87,342.90) scale(1.0454,1)" font-family="Liberation Sans" font-size="15.85" fill="#6e6e6e">2024</text>
<text transform="translate(162.61,363.80) scale(1.0333,1)" font-family="Liberation Sans" font-size="15.85" font-weight="bold" fill="#656565">6,547</text>
<text transform="translate(243.04,342.90) scale(1.0441,1)" font-family="Liberation Sans" font-size="15.85" fill="#6e6e6e">+/-</text>
<text transform="translate(233.45,363.80) scale(1.0248,1)" font-family="Liberation Sans" font-size="15.85" fill="#6e6e6e">5.5%</text>
<text transform="translate(9.15,404.50) scale(1.0209,1)" font-family="Liberation Sans" font-size="16.0" fill="#6d6d6d">5-year Nov average:</text>
<text transform="translate(166.53,404.50) scale(1.0479,1)" font-family="Liberation Sans" font-size="16.0" font-weight="bold" fill="#656565">443</text>
<text transform="translate(331.75,192.70) scale(0.9696,1)" font-family="Liberation Sans" font-size="18.0" font-weight="bold" fill="#646464">New Pendings</text>
<text transform="translate(547.57,200.40)" font-family="Liberation Sans" font-size="31.5" fill="#3879b4">455</text>
<text transform="translate(377.24,254.70) scale(0.9852,1)" font-family="Liberation Sans" font-size="24.3" fill="#c74a54">-26.0%</text>
<text transform="translate(345.34,276.60) scale(0.9929,1)" font-family="Liberation Sans" font-size="16.4" fill="#6d6d6d">from Oct 2025:</text>
<text transform="translate(380.10,296.90) scale(1.0135,1)" font-family="Liberation Sans" font-size="16.4" font-weight="bold" fill="#656565">615</text>
<text transform="translate(530.98,254.70)" font-family="Liberation Sans" font-size="24.3" fill="#4a9a4d">7.3%</text>
<text transform="translate(488.94,276.60) scale(1.0035,1)" font-family="Liberation Sans" font-size="16.4" fill="#6d6d6d">from Nov 2024:</text>
<text transform="translate(526.44,296.90) scale(0.9684,1)" font-family="Liberation Sans" font-size="16.4" font-weight="bold" fill="#656565">424</text>
<text transform="translate(332.49,342.90) scale(0.9702,1)" font-family="Liberation Sans" font-size="15.85" fill="#6e6e6e">YTD</text>
<text transform="translate(398.15,342.90) scale(1.0680,1)" font-family="Liberation Sans" font-size="15.85" fill="#6e6e6e">2025</text>
<text transform="translate(397.21,363.80) scale(1.0213,1)" font-family="Liberation Sans" font-size="15.85" font-weight="bold" fill="#3c82bd">5,981</text>
<text transform="translate(485.16,342.90) scale(1.0660,1)" font-family="Liberation Sans" font-size="15.85" fill="#6e6e6e">2024</text>
<text transform="translate(484.20,363.80) scale(1.0566,1)" font-family="Liberation Sans" font-size="15.85" font-weight="bold" fill="#656565">5,636</text>
<text transform="translate(564.75,342.90) scale(1.0328,1)" font-family="Liberation Sans" font-size="15.85" fill="#6e6e6e">+/-</text>
<text transform="translate(555.38,363.80) scale(1.0295,1)" font-family="Liberation Sans" font-size="15.85" fill="#6e6e6e">6.1%</text>
<text transform="translate(331.75,404.50) scale(1.0209,1)" font-family="Liberation Sans" font-size="16.0" fill="#6d6d6d">5-year Nov average:</text>
<text transform="translate(488.63,404.50) scale(1.0479,1)" font-family="Liberation Sans" font-size="16.0" font-weight="bold" fill="#656565">480</text>
<text transform="translate(654.80,192.70) scale(0.9776,1)" font-family="Liberation Sans" font-size="18.0" font-weight="bold" fill="#646464">Closed Sales</text>
<text transform="translate(870.97,200.40) scale(0.9946,1)" font-family="Liberation Sans" font-size="31.5" fill="#3879b4">462</text>
<text transform="translate(699.82,254.70) scale(1.0065,1)" font-family="Liberation Sans" font-size="24.3" fill="#c74a54">-16.0%</text>
<text transform="translate(668.74,276.60) scale(0.9854,1)" font-family="Liberation Sans" font-size="16.4" fill="#6d6d6d">from Oct 2025:</text>
<text transform="translate(703.52,296.90) scale(0.9856,1)" font-family="Liberation Sans" font-size="16.4" font-weight="bold" fill="#656565">550</text>
<text transform="translate(850.43,254.70) scale(0.9952,1)" font-family="Liberation Sans" font-size="24.3" fill="#c74a54">-5.1%</text>
<text transform="translate(812.14,276.60) scale(1.0035,1)" font-family="Liberation Sans" font-size="16.4" fill="#6d6d6d">from Nov 2024:</text>
<text transform="translate(849.23,296.90) scale(1.0073,1)" font-family="Liberation Sans" font-size="16.4" font-weight="bold" fill="#656565">487</text>
<text transform="translate(655.89,342.90) scale(0.9702,1)" font-family="Liberation Sans" font-size="15.85" fill="#6e6e6e">YTD</text>
<text transform="translate(721.55,342.90) scale(1.0680,1)" font-family="Liberation Sans" font-size="15.85" fill="#6e6e6e">2025</text>
<text transform="translate(720.80,363.80) scale(1.0410,1)" font-family="Liberation Sans" font-size="15.85" font-weight="bold" fill="#3c82bd">5,686</text>
<text transform="translate(808.66,342.90) scale(1.0660,1)" font-family="Liberation Sans" font-size="15.85" fill="#6e6e6e">2024</text>
<text transform="translate(807.92,363.80) scale(1.0038,1)" font-family="Liberation Sans" font-size="15.85" font-weight="bold" fill="#656565">5,374</text>
<text transform="translate(888.24,342.90) scale(1.0441,1)" font-family="Liberation Sans" font-size="15.85" fill="#6e6e6e">+/-</text>
<text transform="translate(878.74,363.80) scale(1.0477,1)" font-family="Liberation Sans" font-size="15.85" fill="#6e6e6e">5.8%</text>
<text transform="translate(654.75,404.50) scale(1.0209,1)" font-family="Liberation Sans" font-size="16.0" fill="#6d6d6d">5-year Nov average:</text>
<text transform="translate(811.52,404.50) scale(1.0040,1)" font-family="Liberation Sans" font-size="16.0" font-weight="bold" fill="#656565">531</text>
<text transform="translate(9.34,488.80) scale(0.9972,1)" font-family="Liberation Sans" font-size="17.8" font-weight="bold" fill="#646464">Median</text>
<text transform="translate(10.04,509.00)" font-family="Liberation Sans" font-size="17.8" font-weight="bold" fill="#646464">Sold Price</text>
<text transform="translate(148.19,496.40) scale(0.9890,1)" font-family="Liberation Sans" font-size="31.5" fill="#3879b4">$475,000</text>
<text transform="translate(62.05,550.70) scale(0.9822,1)" font-family="Liberation Sans" font-size="24.3" fill="#c74a54">-6.9%</text>
<text transform="translate(23.74,572.60) scale(0.9779,1)" font-family="Liberation Sans" font-size="16.4" fill="#6d6d6d">from Oct 2025:</text>
<text transform="translate(36.53,592.90) scale(1.0141,1)" font-family="Liberation Sans" font-size="16.4" font-weight="bold" fill="#656565">$510,000</text>
<text transform="translate(205.65,550.70) scale(0.9822,1)" font-family="Liberation Sans" font-size="24.3" fill="#c74a54">-5.0%</text>
<text transform="translate(166.63,572.60) scale(1.0098,1)" font-family="Liberation Sans" font-size="16.4" fill="#6d6d6d">from Nov 2024:</text>
<text transform="translate(183.34,592.90) scale(1.0023,1)" font-family="Liberation Sans" font-size="16.4" font-weight="bold" fill="#656565">$500,000</text>
<text transform="translate(10.39,638.90) scale(0.9702,1)" font-family="Liberation Sans" font-size="15.85" fill="#6e6e6e">YTD</text>
<text transform="translate(76.25,638.90) scale(1.0739,1)" font-family="Liberation Sans" font-size="15.85" fill="#6e6e6e">2025</text>
<text transform="translate(61.23,659.80) scale(1.0432,1)" font-family="Liberation Sans" font-size="15.85" font-weight="bold" fill="#3c82bd">$500,000</text>
<text transform="translate(163.88,638.90) scale(1.0337,1)" font-family="Liberation Sans" font-size="15.85" fill="#6e6e6e">2024</text>
<text transform="translate(148.03,659.80) scale(1.0416,1)" font-family="Liberation Sans" font-size="15.85" font-weight="bold" fill="#656565">$480,000</text>
<text transform="translate(243.59,638.90) scale(0.9647,1)" font-family="Liberation Sans" font-size="15.85" fill="#6e6e6e">+/-</text>
<text transform="translate(234.18,659.80) scale(1.0100,1)" font-family="Liberation Sans" font-size="15.85" fill="#6e6e6e">4.2%</text>
<text transform="translate(9.15,700.50) scale(1.0209,1)" font-family="Liberation Sans" font-size="16.0" fill="#6d6d6d">5-year Nov average:</text>
<text transform="translate(167.03,700.50) scale(1.0319,1)" font-family="Liberation Sans" font-size="16.0" font-weight="bold" fill="#656565">$449,200</text>
<text transform="translate(421.03,488.60) scale(0.9663,1)" font-family="Liberation Sans" font-size="13.8" fill="#5f6c7f">Closed Sales</text>
<text transform="translate(682.24,488.90) scale(0.9577,1)" font-family="Liberation Sans" font-size="13.8" fill="#5f6c7f">Median Sold Price ($1,000s)</text>
<text transform="translate(335.67,530.30) scale(0.9944,1)" font-family="Liberation Sans" font-size="13.2" fill="#6a84a8">800</text>
<text transform="translate(335.54,561.18)" font-family="Liberation Sans" font-size="13.2" fill="#6a84a8">700</text>
<text transform="translate(335.54,592.06)" font-family="Liberation Sans" font-size="13.2" fill="#6a84a8">600</text>
<text transform="translate(335.67,622.94) scale(0.9944,1)" font-family="Liberation Sans" font-size="13.2" fill="#6a84a8">500</text>
<text transform="translate(335.94,653.82) scale(0.9820,1)" font-family="Liberation Sans" font-size="13.2" fill="#6a84a8">400</text>
<text transform="translate(335.81,684.70) scale(0.9882,1)" font-family="Liberation Sans" font-size="13.2" fill="#6a84a8">300</text>
<text transform="translate(335.54,715.58)" font-family="Liberation Sans" font-size="13.2" fill="#6a84a8">200</text>
<text transform="translate(900.77,530.30) scale(0.9842,1)" font-family="Liberation Sans" font-size="13.2" fill="#a487c2">$550</text>
<text transform="translate(900.77,561.18) scale(0.9842,1)" font-family="Liberation Sans" font-size="13.2" fill="#a487c2">$525</text>
<text transform="translate(900.77,592.06) scale(0.9842,1)" font-family="Liberation Sans" font-size="13.2" fill="#a487c2">$500</text>
<text transform="translate(900.77,622.94) scale(0.9842,1)" font-family="Liberation Sans" font-size="13.2" fill="#a487c2">$475</text>
<text transform="translate(900.77,653.82) scale(0.9842,1)" font-family="Liberation Sans" font-size="13.2" fill="#a487c2">$450</text>
<text transform="translate(900.77,684.70) scale(0.9842,1)" font-family="Liberation Sans" font-size="13.2" fill="#a487c2">$425</text>
<text transform="translate(900.77,715.58) scale(0.9842,1)" font-family="Liberation Sans" font-size="13.2" fill="#a487c2">$400</text>
<text transform="translate(374.25,728.00)" font-family="Liberation Sans" font-size="13.7" fill="#747474">N</text>
<text transform="translate(394.75,728.00)" font-family="Liberation Sans" font-size="13.7" fill="#747474">D</text>
<text transform="translate(417.66,728.00)" font-family="Liberation Sans" font-size="13.7" fill="#747474">J</text>
<text transform="translate(436.86,728.00)" font-family="Liberation Sans" font-size="13.7" fill="#747474">F</text>
<text transform="translate(456.34,728.00)" font-family="Liberation Sans" font-size="13.7" fill="#747474">M</text>
<text transform="translate(478.21,728.00)" font-family="Liberation Sans" font-size="13.7" fill="#747474">A</text>
<text transform="translate(497.76,728.00)" font-family="Liberation Sans" font-size="13.7" fill="#747474">M</text>
<text transform="translate(521.21,728.00)" font-family="Liberation Sans" font-size="13.7" fill="#747474">J</text>
<text transform="translate(541.92,728.00)" font-family="Liberation Sans" font-size="13.7" fill="#747474">J</text>
<text transform="translate(561.05,728.00)" font-family="Liberation Sans" font-size="13.7" fill="#747474">A</text>
<text transform="translate(581.76,728.00)" font-family="Liberation Sans" font-size="13.7" fill="#747474">S</text>
<text transform="translate(601.79,728.00)" font-family="Liberation Sans" font-size="13.7" fill="#747474">O</text>
<text transform="translate(622.77,728.00)" font-family="Liberation Sans" font-size="13.7" fill="#747474">N</text>
<text transform="translate(643.27,728.00)" font-family="Liberation Sans" font-size="13.7" fill="#747474">D</text>
<text transform="translate(666.18,728.00)" font-family="Liberation Sans" font-size="13.7" fill="#747474">J</text>
<text transform="translate(685.38,728.00)" font-family="Liberation Sans" font-size="13.7" fill="#747474">F</text>
<text transform="translate(704.86,728.00)" font-family="Liberation Sans" font-size="13.7" fill="#747474">M</text>
<text transform="translate(726.73,728.00)" font-family="Liberation Sans" font-size="13.7" fill="#747474">A</text>
<text transform="translate(746.28,728.00)" font-family="Liberation Sans" font-size="13.7" fill="#747474">M</text>
<text transform="translate(769.73,728.00)" font-family="Liberation Sans" font-size="13.7" fill="#747474">J</text>
<text transform="translate(790.44,728.00)" font-family="Liberation Sans" font-size="13.7" fill="#747474">J</text>
<text transform="translate(809.57,728.00)" font-family="Liberation Sans" font-size="13.7" fill="#747474">A</text>
<text transform="translate(830.28,728.00)" font-family="Liberation Sans" font-size="13.7" fill="#747474">S</text>
<text transform="translate(850.31,728.00)" font-family="Liberation Sans" font-size="13.7" fill="#747474">O</text>
<text transform="translate(871.29,728.00)" font-family="Liberation Sans" font-size="13.7" fill="#747474">N</text>
<text transform="translate(364.54,759.50) scale(0.8939,1)" font-family="Liberation Sans" font-size="14.7" fill="#747474">2023</text>
<text transform="translate(614.26,759.50) scale(0.8676,1)" font-family="Liberation Sans" font-size="14.7" fill="#747474">2024</text>
<text transform="translate(862.05,759.50) scale(0.8844,1)" font-family="Liberation Sans" font-size="14.7" fill="#747474">2025</text>
<text transform="translate(103.68,736.35) scale(0.9455,1)" font-family="Liberation Serif" font-size="19.4" letter-spacing="0.7" fill="#223f90" stroke="#223f90" stroke-width="0.74" stroke-linejoin="round">Rick Sheppard</text>
</svg>
</body></html>
